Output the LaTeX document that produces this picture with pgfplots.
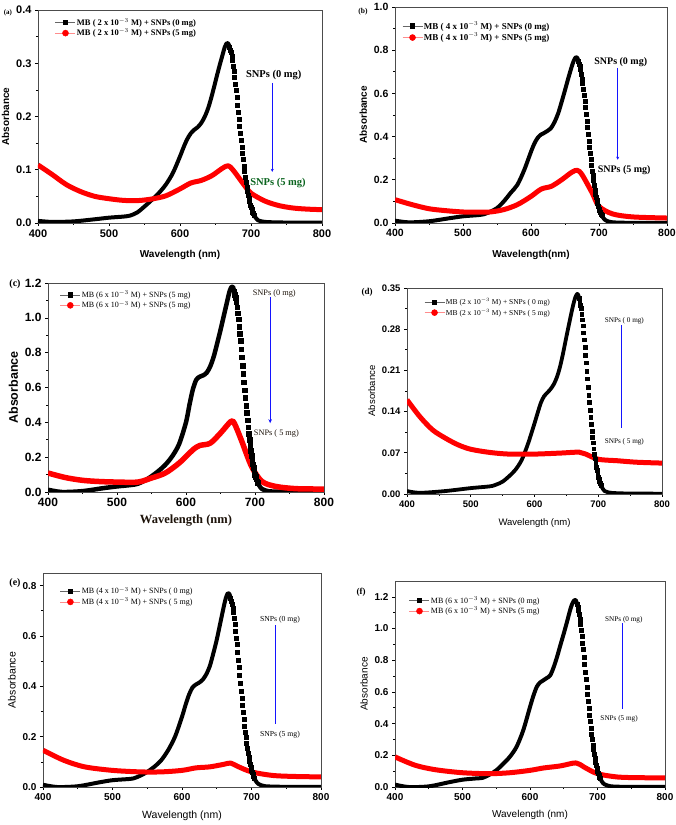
\documentclass[border=0pt]{standalone}
\usepackage{fontspec}
\setmainfont{Liberation Serif}
\setsansfont{Liberation Sans}
\usepackage{pgfplots}
\pgfplotsset{compat=1.18}
\usepackage{pgfplotstable}
\usetikzlibrary{arrows.meta}
\definecolor{dgreen}{RGB}{10,100,30}
\definecolor{arrblue}{RGB}{20,20,255}

% ---------------- black series (MB + SNPs 0 mg) ----------------
\pgfplotstableread{
x y
400 0.004
420 0.002
450 0.003
480 0.007
500 0.010
520 0.012
530 0.014
540 0.020
550 0.031
560 0.043
570 0.056
580 0.072
590 0.094
600 0.125
605 0.142
610 0.157
615 0.168
620 0.175
625 0.180
630 0.188
635 0.200
640 0.217
645 0.240
650 0.266
655 0.292
660 0.316
663 0.330
666 0.338
668 0.337
670 0.331
671 0.325
672 0.320
673 0.314
674 0.305
675 0.295
676 0.285
677 0.273
678 0.261
679 0.249
680 0.236
681 0.222
682 0.208
683 0.195
684 0.181
685 0.168
686 0.156
687 0.142
688 0.131
689 0.119
690 0.107
691 0.097
692 0.086
693 0.076
694 0.068
695 0.059
696 0.053
697 0.046
698 0.040
699 0.034
700 0.029
701 0.025
702 0.021
703 0.018
704 0.015
706 0.011
708 0.0075
710 0.005
715 0.003
720 0.002
740 0.001
800 0.0005
}\blackA
\pgfplotstableread{
x y
400 0.011
420 0.003
450 0.008
480 0.022
500 0.031
520 0.036
530 0.040
540 0.052
550 0.069
560 0.100
570 0.139
580 0.177
590 0.245
600 0.330
605 0.368
610 0.395
615 0.410
620 0.418
625 0.428
630 0.442
635 0.470
640 0.508
645 0.560
650 0.615
655 0.672
660 0.725
663 0.752
666 0.768
668 0.765
670 0.749
671 0.737
672 0.726
673 0.710
674 0.691
675 0.668
676 0.645
677 0.618
678 0.591
679 0.564
680 0.534
681 0.503
682 0.472
683 0.442
684 0.411
685 0.380
686 0.353
687 0.323
688 0.296
689 0.269
690 0.242
691 0.219
692 0.196
693 0.173
694 0.154
695 0.134
696 0.119
697 0.104
698 0.090
699 0.077
700 0.066
701 0.057
702 0.048
703 0.041
704 0.035
706 0.025
708 0.017
710 0.012
715 0.006
720 0.003
740 0.001
800 0.0
}\blackB
\pgfplotstableread{
x y
400 0.013
420 0.0
450 0.005
480 0.022
500 0.032
520 0.040
530 0.047
540 0.065
550 0.090
560 0.120
570 0.156
580 0.205
590 0.275
600 0.400
605 0.500
610 0.590
615 0.645
620 0.662
625 0.670
630 0.685
635 0.720
640 0.775
645 0.850
650 0.930
655 1.015
660 1.100
663 1.150
666 1.178
668 1.178
670 1.151
671 1.133
672 1.115
673 1.092
674 1.062
675 1.027
676 0.991
677 0.950
678 0.909
679 0.867
680 0.820
681 0.773
682 0.726
683 0.679
684 0.631
685 0.584
686 0.543
687 0.496
688 0.454
689 0.413
690 0.372
691 0.336
692 0.301
693 0.266
694 0.236
695 0.207
696 0.183
697 0.159
698 0.138
699 0.118
700 0.101
701 0.087
702 0.074
703 0.063
704 0.053
706 0.038
708 0.026
710 0.018
715 0.009
720 0.004
740 0.001
800 0.0
}\blackC
\pgfplotstableread{
x y
400 0.005
420 0.002
460 0.005
500 0.010
530 0.013
540 0.016
550 0.021
560 0.030
570 0.041
580 0.058
590 0.086
600 0.120
605 0.138
610 0.155
615 0.166
620 0.172
625 0.178
630 0.186
635 0.198
640 0.216
645 0.240
650 0.267
655 0.293
660 0.318
664 0.334
667 0.340
669 0.337
670 0.332
671 0.326
672 0.321
673 0.315
674 0.306
675 0.296
676 0.286
677 0.274
678 0.262
679 0.250
680 0.236
681 0.223
682 0.209
683 0.196
684 0.182
685 0.168
686 0.156
687 0.143
688 0.131
689 0.119
690 0.107
691 0.097
692 0.087
693 0.077
694 0.068
695 0.060
696 0.053
697 0.046
698 0.040
699 0.034
700 0.029
701 0.025
702 0.021
703 0.018
704 0.015
706 0.011
708 0.0075
710 0.005
715 0.003
720 0.002
740 0.001
800 0.0005
}\blackD
\pgfplotstableread{
x y
400 0.009
420 0.0
450 0.003
480 0.018
500 0.027
520 0.031
530 0.034
540 0.045
550 0.060
560 0.080
570 0.106
580 0.146
590 0.200
600 0.279
605 0.325
610 0.366
615 0.395
620 0.407
625 0.415
630 0.427
635 0.448
640 0.480
645 0.530
650 0.585
655 0.650
660 0.715
663 0.750
666 0.770
668 0.768
670 0.751
671 0.739
672 0.728
673 0.712
674 0.693
675 0.670
676 0.647
677 0.620
678 0.593
679 0.566
680 0.535
681 0.504
682 0.474
683 0.443
684 0.412
685 0.381
686 0.354
687 0.323
688 0.296
689 0.270
690 0.243
691 0.219
692 0.196
693 0.173
694 0.154
695 0.135
696 0.119
697 0.104
698 0.090
699 0.077
700 0.066
701 0.057
702 0.049
703 0.041
704 0.035
706 0.025
708 0.017
710 0.012
715 0.006
720 0.003
740 0.001
800 0.0
}\blackE
\pgfplotstableread{
x y
400 0.015
420 0.0
450 0.004
480 0.030
500 0.046
520 0.054
530 0.058
540 0.078
550 0.105
560 0.145
570 0.190
580 0.253
590 0.358
600 0.505
605 0.575
610 0.632
615 0.660
620 0.674
625 0.688
630 0.705
635 0.755
640 0.820
645 0.895
650 0.968
655 1.045
660 1.125
663 1.160
666 1.180
668 1.178
670 1.151
671 1.133
672 1.115
673 1.092
674 1.062
675 1.027
676 0.991
677 0.950
678 0.909
679 0.867
680 0.820
681 0.773
682 0.726
683 0.679
684 0.631
685 0.584
686 0.543
687 0.496
688 0.454
689 0.413
690 0.372
691 0.336
692 0.301
693 0.266
694 0.236
695 0.207
696 0.183
697 0.159
698 0.138
699 0.118
700 0.101
701 0.087
702 0.074
703 0.063
704 0.053
706 0.038
708 0.026
710 0.018
715 0.009
720 0.004
740 0.001
800 0.0
}\blackF

% ---------------- red series (MB + SNPs 5 mg) ----------------
\pgfplotstableread{
x y
400 0.109
420 0.091
440 0.072
460 0.059
480 0.050
500 0.0456
520 0.0425
540 0.042
560 0.045
580 0.051
600 0.064
615 0.075
630 0.080
645 0.089
660 0.103
668 0.1075
675 0.099
690 0.072
700 0.056
720 0.041
740 0.0325
760 0.028
780 0.026
800 0.025
}\redA
\pgfplotstableread{
x y
400 0.108
425 0.085
450 0.066
475 0.057
500 0.051
520 0.050
540 0.051
560 0.062
580 0.085
600 0.123
615 0.157
630 0.170
645 0.200
660 0.235
668 0.244
675 0.224
690 0.139
700 0.077
720 0.042
750 0.028
800 0.023
}\redB
\pgfplotstableread{
x y
400 0.109
425 0.083
450 0.067
475 0.060
500 0.057
530 0.057
550 0.080
570 0.109
590 0.166
610 0.242
620 0.267
635 0.280
650 0.338
665 0.405
670 0.395
680 0.300
695 0.147
710 0.061
730 0.032
760 0.019
800 0.017
}\redC
\pgfplotstableread{
x y
400 0.160
420 0.1316
440 0.109
460 0.095
480 0.0836
500 0.076
530 0.0706
560 0.0678
600 0.0678
640 0.0695
670 0.0711
680 0.068
700 0.059
730 0.0565
760 0.054
800 0.0525
}\redD
\pgfplotstableread{
x y
400 0.146
430 0.106
460 0.080
500 0.066
540 0.060
570 0.060
600 0.066
620 0.076
640 0.080
660 0.090
670 0.095
680 0.082
700 0.060
730 0.046
760 0.042
800 0.040
}\redE
\pgfplotstableread{
x y
400 0.190
430 0.137
460 0.109
500 0.090
540 0.084
570 0.090
600 0.105
620 0.120
645 0.133
668 0.152
680 0.126
700 0.084
730 0.063
760 0.059
800 0.057
}\redF

\pgfplotsset{
  spec/.style={
    scale only axis, anchor=south west,
    xmin=400, xmax=800, ymin=0,
    xtick={400,500,600,700,800},
    minor x tick num=1, minor y tick num=1,
    tick align=outside, xtick pos=left, ytick pos=left,
    axis line style={black!70, line width=0.6pt},
    tick style={black, line width=0.6pt},
    major tick length=3pt, minor tick length=2pt,
    /pgf/number format/assume math mode=true,
    yticklabel style={/pgf/number format/.cd, fixed, fixed zerofill, precision=1},
    legend cell align=left,
    legend style={draw=none, fill=none, inner sep=0pt, row sep=0pt,
      nodes={inner sep=1.2pt}},
    legend image code/.code={\draw[mark repeat=2, mark phase=2]
      plot coordinates {(0pt,0pt) (10pt,0pt) (20pt,0pt)};},
  },
  blk/.style={black, line width=#1, smooth, line join=round, forget plot},
  blkm/.style={black, only marks, mark=square*, mark size=#1, forget plot},
  rd/.style={red, line width=#1, smooth, line join=round, forget plot},
  legk/.style={black!60, line width=0.5pt, mark=square*, mark size=2.2pt, mark options={black}},
  legr/.style={red!45, line width=0.5pt, mark=*, mark size=3pt, mark options={red}},
}

\begin{document}
\begin{tikzpicture}[x=1pt,y=1pt]
\useasboundingbox[fill=white] (0,0) rectangle (676,825);

% ================= (a) =================
\begin{axis}[spec, at={(38pt,602pt)}, width=284pt, height=213pt,
  ymax=0.4, ytick={0,0.1,0.2,0.3,0.4},
  ticklabel style={font=\sffamily\bfseries\fontsize{11}{12}\selectfont},
  xlabel={Wavelength (nm)}, ylabel={Absorbance},
  label style={font=\sffamily\bfseries\fontsize{10}{12}\selectfont},
  xlabel style={yshift=-6pt},
  legend style={at={(axis description cs:0.06,0.967)}, anchor=north west,
    font=\bfseries\fontsize{8.5}{10}\selectfont}]
\addlegendimage{legk}\addlegendentry{MB ( 2 x 10$^{-3}$ M) + SNPs (0 mg)}
\addlegendimage{legr}\addlegendentry{MB ( 2 x 10$^{-3}$ M) + SNPs (5 mg)}
\addplot[blk=4pt, restrict x to domain=400:670] table {\blackA};
\addplot[blkm=2pt, restrict x to domain=670:704] table {\blackA};
\addplot[blk=4pt, restrict x to domain=704:800] table {\blackA};
\addplot[rd=5pt] table {\redA};
\draw[arrblue, line width=1.2pt, -{Stealth[length=3pt,width=3pt]}] (axis cs:730,0.263) -- (axis cs:730,0.096);
\node[font=\bfseries\fontsize{10.5}{12}\selectfont] at (axis cs:732,0.278) {SNPs (0 mg)};
\node[font=\bfseries\fontsize{10.5}{12}\selectfont, text=dgreen] at (axis cs:738,0.075) {SNPs (5 mg)};
\end{axis}

% ================= (b) =================
\begin{axis}[spec, at={(395pt,602pt)}, width=272pt, height=216pt,
  ymax=1.0, ytick={0,0.2,0.4,0.6,0.8,1.0},
  ticklabel style={font=\sffamily\bfseries\fontsize{10.5}{12}\selectfont},
  xlabel={Wavelength(nm)}, ylabel={Absorbance},
  label style={font=\sffamily\bfseries\fontsize{10}{12}\selectfont},
  xlabel style={yshift=-6pt},
  legend style={at={(axis description cs:0.026,0.94)}, anchor=north west,
    font=\bfseries\fontsize{9}{10.5}\selectfont}]
\addlegendimage{legk}\addlegendentry{MB ( 4 x 10$^{-3}$ M) + SNPs (0 mg)}
\addlegendimage{legr}\addlegendentry{MB ( 4 x 10$^{-3}$ M) + SNPs (5 mg)}
\addplot[blk=4pt, restrict x to domain=400:670] table {\blackB};
\addplot[blkm=2pt, restrict x to domain=670:704] table {\blackB};
\addplot[blk=4pt, restrict x to domain=704:800] table {\blackB};
\addplot[rd=5pt] table {\redB};
\draw[arrblue, line width=1.2pt, -{Stealth[length=3pt,width=3pt]}] (axis cs:727.5,0.718) -- (axis cs:727.5,0.293);
\node[font=\bfseries\fontsize{10}{12}\selectfont] at (axis cs:732,0.745) {SNPs (0 mg)};
\node[font=\bfseries\fontsize{10}{12}\selectfont] at (axis cs:737,0.247) {SNPs (5 mg)};
\end{axis}

% ================= (c) =================
\begin{axis}[spec, at={(48pt,333pt)}, width=276pt, height=209pt,
  ymax=1.2, ytick={0,0.2,0.4,0.6,0.8,1.0,1.2},
  ticklabel style={font=\sffamily\bfseries\fontsize{12}{13}\selectfont},
  xlabel={Wavelength (nm)}, ylabel={Absorbance},
  xlabel style={font=\rmfamily\bfseries\fontsize{12.5}{14}\selectfont, text=black!85!brown, yshift=-1pt},
  ylabel style={font=\sffamily\bfseries\fontsize{12.5}{14}\selectfont},
  legend style={at={(axis description cs:0.043,0.97)}, anchor=north west,
    font=\fontsize{8}{9.5}\selectfont}]
\addlegendimage{legk}\addlegendentry{MB (6 x 10$^{-3}$ M) + SNPs (5 mg)}
\addlegendimage{legr}\addlegendentry{MB (6 x 10$^{-3}$ M) + SNPs (5 mg)}
\addplot[blk=4.5pt, restrict x to domain=400:670] table {\blackC};
\addplot[blkm=2.3pt, restrict x to domain=670:704] table {\blackC};
\addplot[blk=4.5pt, restrict x to domain=704:800] table {\blackC};
\addplot[rd=5.5pt] table {\redC};
\draw[arrblue, line width=1.2pt, -{Stealth[length=4pt,width=3.5pt]}] (axis cs:722,1.12) -- (axis cs:722,0.395);
\node[font=\fontsize{8.3}{10}\selectfont, text=black!85!brown] at (axis cs:728,1.14) {SNPs (0 mg)};
\node[font=\fontsize{8.3}{10}\selectfont, text=black!85!brown] at (axis cs:731,0.338) {SNPs ( 5 mg)};
\end{axis}

% ================= (d) =================
\begin{axis}[spec, at={(407pt,331pt)}, width=255pt, height=206pt,
  ymax=0.35, ytick={0,0.07,0.14,0.21,0.28,0.35},
  yticklabel style={/pgf/number format/.cd, fixed, fixed zerofill, precision=2},
  ticklabel style={font=\sffamily\bfseries\fontsize{9.5}{11}\selectfont},
  xlabel={Wavelength (nm)}, ylabel={Absorbance},
  label style={font=\sffamily\fontsize{9.5}{11}\selectfont},
  xlabel style={yshift=-4pt},
  legend style={at={(axis description cs:0.067,0.956)}, anchor=north west,
    font=\fontsize{7.5}{9}\selectfont}]
\addlegendimage{legk}\addlegendentry{MB (2 x 10$^{-3}$ M) + SNPs ( 0 mg)}
\addlegendimage{legr}\addlegendentry{MB (2 x 10$^{-3}$ M) + SNPs ( 5 mg)}
\addplot[blk=3.8pt, restrict x to domain=400:670] table {\blackD};
\addplot[blkm=1.9pt, restrict x to domain=670:704] table {\blackD};
\addplot[blk=3.8pt, restrict x to domain=704:800] table {\blackD};
\addplot[rd=5pt] table {\redD};
\draw[arrblue, line width=1.2pt] (axis cs:737,0.287) -- (axis cs:737,0.112);
\node[font=\fontsize{7.2}{9}\selectfont] at (axis cs:741,0.295) {SNPs ( 0 mg)};
\node[font=\fontsize{7.2}{9}\selectfont] at (axis cs:741,0.089) {SNPs ( 5 mg)};
\end{axis}

% ================= (e) =================
\begin{axis}[spec, at={(43pt,38pt)}, width=278pt, height=214pt,
  ymax=0.85, ytick={0,0.2,0.4,0.6,0.8},
  ticklabel style={font=\sffamily\bfseries\fontsize{10}{12}\selectfont},
  xlabel={Wavelength (nm)}, ylabel={Absorbance},
  label style={font=\sffamily\fontsize{10.5}{12}\selectfont},
  xlabel style={yshift=-3pt},
  legend style={at={(axis description cs:0.061,0.94)}, anchor=north west,
    font=\fontsize{8}{9.5}\selectfont}]
\addlegendimage{legk}\addlegendentry{MB (4 x 10$^{-3}$ M) + SNPs ( 0 mg)}
\addlegendimage{legr}\addlegendentry{MB (4 x 10$^{-3}$ M) + SNPs ( 5 mg)}
\addplot[blk=4pt, restrict x to domain=400:670] table {\blackE};
\addplot[blkm=2pt, restrict x to domain=670:704] table {\blackE};
\addplot[blk=4pt, restrict x to domain=704:800] table {\blackE};
\addplot[rd=5pt] table {\redE};
\draw[arrblue, line width=1.2pt] (axis cs:735,0.643) -- (axis cs:735,0.252);
\node[font=\fontsize{7.7}{9}\selectfont] at (axis cs:741,0.666) {SNPs (0 mg)};
\node[font=\fontsize{7.7}{9}\selectfont] at (axis cs:741,0.206) {SNPs (5 mg)};
\end{axis}

% ================= (f) =================
\begin{axis}[spec, at={(395pt,38pt)}, width=270pt, height=206pt,
  ymax=1.3, ytick={0,0.2,0.4,0.6,0.8,1.0,1.2},
  ticklabel style={font=\sffamily\bfseries\fontsize{10}{12}\selectfont},
  xlabel={Wavelength (nm)}, ylabel={Absorbance},
  label style={font=\sffamily\fontsize{10}{12}\selectfont},
  xlabel style={yshift=-3pt},
  legend style={at={(axis description cs:0.052,0.932)}, anchor=north west,
    font=\fontsize{8}{9.5}\selectfont}]
\addlegendimage{legk}\addlegendentry{MB (6 x 10$^{-3}$ M) + SNPs (0 mg)}
\addlegendimage{legr}\addlegendentry{MB (6 x 10$^{-3}$ M) + SNPs (5 mg)}
\addplot[blk=4pt, restrict x to domain=400:670] table {\blackF};
\addplot[blkm=2pt, restrict x to domain=670:704] table {\blackF};
\addplot[blk=4pt, restrict x to domain=704:800] table {\blackF};
\addplot[rd=5pt] table {\redF};
\draw[arrblue, line width=1.2pt] (axis cs:737,1.032) -- (axis cs:737,0.495);
\node[font=\fontsize{7.2}{9}\selectfont] at (axis cs:739,1.057) {SNPs (0 mg)};
\node[font=\fontsize{7.2}{9}\selectfont] at (axis cs:732,0.432) {SNPs (5 mg)};
\end{axis}

% panel letters
\node[font=\bfseries\fontsize{7}{8}\selectfont] at (8,812) {(a)};
\node[font=\bfseries\fontsize{7.5}{8}\selectfont] at (363,813) {(b)};
\node[font=\bfseries\fontsize{10}{11}\selectfont] at (15,541) {(c)};
\node[font=\bfseries\fontsize{9}{10}\selectfont] at (367,533) {(d)};
\node[font=\bfseries\fontsize{10}{11}\selectfont] at (15,242) {(e)};
\node[font=\bfseries\fontsize{9}{10}\selectfont] at (361,233) {(f)};
\end{tikzpicture}
\end{document}
